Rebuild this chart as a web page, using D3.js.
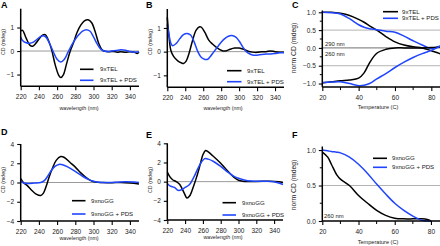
<!DOCTYPE html>
<html>
<head>
<meta charset="utf-8">
<script src="https://cdn.jsdelivr.net/npm/d3@7"></script>
<style>
  body { margin: 0; background: #fff; }
  svg { display: block; font-family: 'Liberation Sans', Arial, sans-serif; }
</style>
</head>
<body>
<svg id="chart" width="440" height="246"></svg>
<script>
'use strict';

var BLACK = '#000000';
var BLUE = '#1f45ff';

// panel A - 9xTEL spectra
var nmA_tel = [220,222,226,230,233,236,240,244,247,250,254,258,262,264,267,270,274,278,282,286,290,294,298,302,306,310,314,318,322,326,330,335,340,345,348,350];
var cdA_tel = [0.86,0.88,0.55,0.25,0.2,0.3,0.5,0.68,0.7,0.5,0.05,-0.6,-1.05,-1.13,-1.0,-0.6,-0.05,0.35,0.8,1.1,1.28,1.33,1.2,0.8,0.3,0.03,-0.02,-0.03,-0.02,-0.05,-0.03,-0.05,-0.03,-0.05,-0.1,-0.05];
var nmA_pds = [220,222,226,230,234,238,242,245,248,252,256,260,264,268,272,276,280,284,288,292,296,300,304,308,312,316,320,325,330,335,340,345,350];
var cdA_pds = [0.6,0.45,0.35,0.33,0.38,0.5,0.62,0.65,0.58,0.3,-0.05,-0.35,-0.47,-0.35,-0.05,0.25,0.5,0.7,0.85,0.91,0.85,0.6,0.3,0.08,0.0,-0.02,0.0,0.02,0.05,0.03,-0.02,-0.05,-0.03];

// panel B
var nmB_tel = [220,222,224,227,232,236,238,241,244,248,252,256,258,262,266,270,274,278,282,286,290,295,300,305,310,315,320,325,330,335,340,345,350];
var cdB_tel = [1.45,0.6,0.05,-0.2,-0.4,-0.48,-0.5,-0.4,-0.1,0.45,0.9,1.05,1.03,0.8,0.5,0.33,0.2,0.1,0.03,0.04,0.1,0.15,0.15,0.1,0.02,-0.02,-0.03,0.0,0.0,0.03,0.0,-0.02,-0.03];
var nmB_pds = [220,222,224,226,230,234,238,242,246,250,254,258,262,265,268,272,276,280,284,288,292,296,300,304,308,312,316,320,325,330,335,340,345,350];
var cdB_pds = [1.15,0.7,0.35,0.25,0.35,0.55,0.72,0.77,0.7,0.4,0.0,-0.25,-0.33,-0.32,-0.2,0.0,0.2,0.4,0.55,0.65,0.68,0.62,0.45,0.2,0.0,-0.1,-0.15,-0.15,-0.12,-0.1,-0.1,-0.08,-0.05,-0.05];

// panel C - melting, 290 nm and 260 nm
var tC = [20,25,30,35,40,43,46,50,55,60,65,70,75,80,83,85];
var c290_tel = [1.0,1.0,0.97,0.91,0.8,0.72,0.62,0.5,0.32,0.17,0.08,0.03,0.0,-0.08,-0.13,-0.17];
var c290_pds = [1.0,0.99,0.95,0.82,0.65,0.58,0.54,0.51,0.47,0.44,0.33,0.2,0.08,-0.02,0.02,0.06];
var c260_tel = [-0.98,-0.95,-0.92,-0.9,-0.85,-0.7,-0.42,-0.15,-0.04,0.0,0.0,0.0,0.0,0.01,0.02,0.02];
var c260_pds = [-0.98,-0.96,-0.95,-1.0,-1.06,-1.05,-1.0,-0.87,-0.72,-0.55,-0.4,-0.27,-0.16,-0.07,0.0,0.05];

// panel D - 9xnoGG spectra
var nmD_tel = [220,223,227,232,237,242,245,248,251,255,259,264,268,274,280,286,292,297,302,310,320,330,340,350];
var cdD_tel = [0.4,0.0,-0.3,-0.8,-1.2,-1.35,-1.1,-0.4,0.5,1.5,2.3,2.7,2.6,2.1,1.6,1.0,0.5,0.2,0.05,0.0,-0.02,0.0,-0.05,-0.15];
var nmD_pds = [220,223,228,235,242,246,250,254,258,262,266,272,280,288,295,300,305,315,325,335,345,350];
var cdD_pds = [0.2,-0.05,-0.1,-0.05,0.0,0.2,0.7,1.3,1.7,1.88,1.85,1.6,1.15,0.65,0.3,0.12,0.03,0.0,0.02,0.08,0.05,0.0];

// panel E
var nmE_tel = [220,223,226,230,234,239,242,245,249,253,257,260,263,266,271,278,284,290,295,300,305,320,335,345,350];
var cdE_tel = [1.0,0.5,0.2,0.0,-0.3,-1.2,-1.7,-1.5,-0.6,0.5,1.8,2.8,3.25,3.1,2.7,2.1,1.5,0.9,0.45,0.15,0.05,0.02,0.05,0.0,-0.1];
var nmE_pds = [220,223,228,232,236,240,245,250,254,258,262,266,272,280,288,295,300,310,320,330,340,350];
var cdE_pds = [-0.2,-0.45,-0.6,-0.9,-0.85,-0.6,-0.3,0.5,1.3,2.0,2.4,2.35,2.1,1.6,1.0,0.55,0.35,0.1,0.05,0.05,0.0,-0.3];

// panel F - melting at 260 nm
var tF = [20,23,25,28,30,35,40,45,50,55,60,65,70,73,75,78,80];
var f_tel = [0.97,0.9,0.8,0.65,0.59,0.5,0.36,0.25,0.15,0.08,0.04,0.03,0.03,0.03,0.03,0.02,0.0];
var f_pds = [1.0,0.99,0.98,0.97,0.96,0.9,0.8,0.67,0.52,0.38,0.25,0.15,0.07,0.03,0.01,0.0,0.0];

var nmTicks = [220,240,260,280,300,320,340];
var tempTicks = [20,40,60,80];

var svg = d3.select('#chart');

function zip(xs, ys) {
    return xs.map(function(x, i) { return [x, ys[i]]; });
}

function drawPanel(p) {
    var x = d3.scaleLinear().domain(p.xDomain).range(p.xRange);
    var y = d3.scaleLinear().domain(p.yDomain).range(p.yRange);
    var g = svg.append('g');

    // reference lines
    (p.refLines || []).forEach(function(r) {
        g.append('line')
            .attr('x1', p.xRange[0]).attr('x2', p.xRange[1])
            .attr('y1', y(r.v)).attr('y2', y(r.v))
            .attr('stroke', r.color).attr('stroke-width', r.w);
    });

    var line = d3.line()
        .x(function(d) { return x(d[0]); })
        .y(function(d) { return y(d[1]); })
        .curve(d3.curveCatmullRom.alpha(0.5));

    p.series.forEach(function(s) {
        g.append('path')
            .datum(zip(s.x, s.y))
            .attr('fill', 'none')
            .attr('stroke', s.color)
            .attr('stroke-width', 1.5)
            .attr('d', line);
    });

    // axes
    var xAxis = d3.axisBottom(x).tickValues(p.xTicks).tickSize(4).tickPadding(4.5)
        .tickFormat(d3.format('d'));
    var gx = g.append('g').attr('transform', 'translate(0,' + p.yRange[0] + ')').call(xAxis);
    if (p.xMinor) {
        gx.selectAll('.minor').data(p.xMinor).enter().append('line')
            .attr('x1', function(d) { return x(d); }).attr('x2', function(d) { return x(d); })
            .attr('y1', 0).attr('y2', 3).attr('stroke', BLACK).attr('stroke-width', 1);
    }

    var yAxis = d3.axisLeft(y).tickValues(p.yTicks).tickSize(3.5).tickPadding(3)
        .tickFormat(p.yFormat);
    var gy = g.append('g').attr('transform', 'translate(' + p.xRange[0] + ',0)').call(yAxis);
    if (p.yMinor) {
        gy.selectAll('.minor').data(p.yMinor).enter().append('line')
            .attr('y1', function(d) { return y(d); }).attr('y2', function(d) { return y(d); })
            .attr('x1', 0).attr('x2', -2.5).attr('stroke', BLACK).attr('stroke-width', 1);
    }

    [gx, gy].forEach(function(a) {
        a.select('.domain').attr('stroke', BLACK).attr('stroke-width', 1.5);
        a.selectAll('.tick line').attr('stroke', BLACK).attr('stroke-width', 1.1);
        a.selectAll('.tick text').attr('font-size', 6.5).attr('fill', '#222')
            .attr('font-family', "'Liberation Sans', Arial, sans-serif");
    });
    gx.select('.domain').attr('d', 'M' + p.xRange[0] + ',0H' + p.xRange[1]);
    gy.select('.domain').attr('d', 'M0,' + p.yRange[1] + 'V' + p.yRange[0]);

    // titles
    svg.append('text').attr('x', p.letter[0]).attr('y', p.letter[1])
        .attr('font-size', 9).attr('font-weight', 'bold').text(p.name);
    svg.append('text')
        .attr('transform', 'translate(' + p.yTitle[0] + ',' + p.yTitle[1] + ') rotate(-90)')
        .attr('text-anchor', 'middle').attr('dy', '0.35em')
        .attr('font-size', p.yTitleSize).attr('fill', '#222').text(p.yLabel);
    svg.append('text').attr('x', p.xTitle[0]).attr('y', p.xTitle[1])
        .attr('text-anchor', 'middle').attr('dy', '0.35em')
        .attr('font-size', p.xTitleSize).attr('fill', '#222').text(p.xLabel);

    // legend
    p.series.slice(0, 2).forEach(function(s, i) {
        var ly = p.legend.y[i];
        svg.append('line')
            .attr('x1', p.legend.x0).attr('x2', p.legend.x1)
            .attr('y1', ly).attr('y2', ly)
            .attr('stroke', s.color).attr('stroke-width', 1.6);
        svg.append('text').attr('x', p.legend.tx).attr('y', ly).attr('dy', '0.35em')
            .attr('font-size', 6.1).attr('fill', '#222').text(s.label);
    });

    (p.notes || []).forEach(function(n) {
        svg.append('text').attr('x', n.x).attr('y', n.y).attr('dy', '0.35em')
            .attr('font-size', 5.9).attr('fill', '#222').text(n.t);
    });
}

var fmtInt = d3.format('d');
var fmt1 = d3.format('.1f');
var zeroLine = [{ v: 0, color: '#9a9a9a', w: 1 }];

drawPanel({
    name: 'A', letter: [1, 8],
    xDomain: [220, 350], xRange: [20.7, 139],
    yDomain: [-1.5, 1.8], yRange: [86.3, 8.7],
    xTicks: nmTicks, yTicks: [-1, 0, 1], yFormat: fmtInt,
    refLines: zeroLine,
    series: [
        { x: nmA_tel, y: cdA_tel, color: BLACK, label: '9xTEL' },
        { x: nmA_pds, y: cdA_pds, color: BLUE, label: '9xTEL + PDS' }
    ],
    yLabel: 'CD (mdeg)', yTitle: [3.5, 42], yTitleSize: 5.3,
    xLabel: 'wavelength (nm)', xTitle: [79, 108], xTitleSize: 5.3,
    legend: { x0: 80, x1: 93.5, tx: 100, y: [69.3, 80.3] }
});

drawPanel({
    name: 'B', letter: [146, 8],
    xDomain: [220, 350], xRange: [167.3, 284],
    yDomain: [-1.5, 1.8], yRange: [87.2, 9],
    xTicks: nmTicks, yTicks: [-1, 0, 1], yFormat: fmtInt,
    refLines: zeroLine,
    series: [
        { x: nmB_tel, y: cdB_tel, color: BLACK, label: '9xTEL' },
        { x: nmB_pds, y: cdB_pds, color: BLUE, label: '9xTEL + PDS' }
    ],
    yLabel: 'CD (mdeg)', yTitle: [150, 42], yTitleSize: 5.3,
    xLabel: 'wavelength (nm)', xTitle: [223, 108], xTitleSize: 5.3,
    legend: { x0: 227, x1: 241.5, tx: 247, y: [70.7, 81.7] }
});

drawPanel({
    name: 'C', letter: [292, 8],
    xDomain: [20, 85], xRange: [322.3, 440.4],
    yDomain: [-1.1, 1.05], yRange: [87.1, 10.5],
    xTicks: tempTicks, xMinor: [30, 50, 70],
    yTicks: [-1, -0.5, 0, 0.5, 1], yMinor: [-0.75, -0.25, 0.25, 0.75], yFormat: fmt1,
    refLines: [
        { v: 0.5, color: '#b4b4b4', w: 1 },
        { v: 0, color: '#8c8c8c', w: 1.3 },
        { v: -0.5, color: '#b4b4b4', w: 1 }
    ],
    series: [
        { x: tC, y: c290_tel, color: BLACK, label: '9xTEL' },
        { x: tC, y: c290_pds, color: BLUE, label: '9xTEL + PDS' },
        { x: tC, y: c260_tel, color: BLACK },
        { x: tC, y: c260_pds, color: BLUE }
    ],
    yLabel: 'norm CD (mdeg)', yTitle: [294, 48], yTitleSize: 6.8,
    xLabel: 'Temperature (C)', xTitle: [378, 107.5], xTitleSize: 5.6,
    legend: { x0: 383, x1: 398, tx: 402, y: [11.7, 18.3] },
    notes: [{ x: 325, y: 43.5, t: '290 nm' }, { x: 325, y: 53.5, t: '260 nm' }]
});

drawPanel({
    name: 'D', letter: [1, 135],
    xDomain: [220, 350], xRange: [20.7, 139],
    yDomain: [-4, 4], yRange: [221, 144],
    xTicks: nmTicks, yTicks: [-4, -2, 0, 2, 4], yFormat: fmtInt,
    refLines: zeroLine,
    series: [
        { x: nmD_tel, y: cdD_tel, color: BLACK, label: '9xnoGG' },
        { x: nmD_pds, y: cdD_pds, color: BLUE, label: '9xnoGG + PDS' }
    ],
    yLabel: 'CD (mdeg)', yTitle: [3.5, 180], yTitleSize: 5.3,
    xLabel: 'wavelength (nm)', xTitle: [79, 238], xTitleSize: 5.3,
    legend: { x0: 72, x1: 85.5, tx: 91, y: [200.7, 214] }
});

drawPanel({
    name: 'E', letter: [146, 138],
    xDomain: [220, 350], xRange: [167.3, 283],
    yDomain: [-4, 4], yRange: [220, 143.3],
    xTicks: nmTicks, yTicks: [-4, -2, 0, 2, 4], yFormat: fmtInt,
    refLines: zeroLine,
    series: [
        { x: nmE_tel, y: cdE_tel, color: BLACK, label: '9xnoGG' },
        { x: nmE_pds, y: cdE_pds, color: BLUE, label: '9xnoGG + PDS' }
    ],
    yLabel: 'CD (mdeg)', yTitle: [150, 180], yTitleSize: 5.3,
    xLabel: 'wavelength (nm)', xTitle: [223, 237.5], xTitleSize: 5.3,
    legend: { x0: 222.5, x1: 236, tx: 242, y: [202.7, 215] }
});

drawPanel({
    name: 'F', letter: [292, 138],
    xDomain: [20, 85], xRange: [322.3, 440],
    yDomain: [0, 1.05], yRange: [221, 146.5],
    xTicks: tempTicks, xMinor: [30, 50, 70],
    yTicks: [0, 0.5, 1], yMinor: [0.25, 0.75], yFormat: fmt1,
    refLines: [{ v: 0.5, color: '#b4b4b4', w: 1.2 }],
    series: [
        { x: tF, y: f_tel, color: BLACK, label: '9xnoGG' },
        { x: tF, y: f_pds, color: BLUE, label: '9xnoGG + PDS' }
    ],
    yLabel: 'norm CD (mdeg)', yTitle: [294, 185], yTitleSize: 6.8,
    xLabel: 'Temperature (C)', xTitle: [378, 242], xTitleSize: 5.6,
    legend: { x0: 373, x1: 387, tx: 392, y: [158.3, 167.3] },
    notes: [{ x: 324, y: 215.5, t: '260 nm' }]
});
</script>
</body>
</html>
